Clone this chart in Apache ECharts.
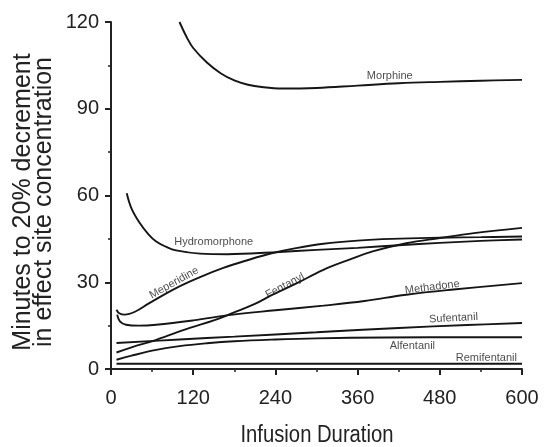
<!DOCTYPE html>
<html>
<head>
<meta charset="utf-8">
<script src="https://cdn.jsdelivr.net/npm/echarts@6/dist/echarts.min.js"></script>
<style>
  html, body { margin: 0; padding: 0; background: #fff; }
  #chart { width: 545px; height: 447px; }
</style>
</head>
<body>
<div id="chart"></div>
<script>
// curve data, [infusion minutes, minutes to 20% decrement]
var morphine = [[100, 120], [110, 115], [120, 111], [140, 106], [160, 102.3], [180, 99.8], [200, 98.3], [220, 97.5], [250, 97], [300, 97.2], [360, 98], [420, 98.8], [480, 99.3], [540, 99.7], [600, 100]]
var hydromorphone = [[23, 60.8], [30, 55.5], [42, 50.5], [55, 46.5], [66, 44.1], [80, 42.3], [95, 41], [130, 39.9], [170, 39.7], [240, 40.4], [300, 41.2], [360, 41.9], [420, 42.8], [480, 43.6], [540, 44.3], [600, 44.8]]
var meperidine = [[8, 20.5], [12, 19.3], [20, 18.8], [35, 19.8], [56, 22.8], [95, 28], [130, 31.8], [163, 34.9], [200, 37.7], [236, 40.1], [270, 41.8], [310, 43.3], [360, 44.4], [410, 45], [480, 45.4], [540, 45.6], [600, 45.8]]
var fentanyl = [[8, 5.7], [30, 7.5], [66, 10.1], [115, 14.2], [150, 16.8], [178, 19.4], [210, 22.5], [236, 25.7], [270, 29.5], [310, 34.3], [350, 38], [382, 40.7], [431, 43.5], [480, 45.3], [530, 47], [600, 48.8]]
var methadone = [[9, 18.8], [13, 16.5], [22, 15.3], [40, 15], [66, 15.3], [120, 16.8], [178, 18.8], [240, 20.3], [310, 21.9], [370, 23.5], [431, 25.7], [500, 27.5], [600, 29.7]]
var sufentanil = [[8, 9], [100, 10.2], [180, 11.2], [300, 12.7], [420, 14.2], [520, 15.2], [600, 15.9]]
var alfentanil = [[8, 3.2], [30, 4.6], [66, 6.6], [100, 7.9], [140, 8.9], [180, 9.6], [240, 10.2], [300, 10.6], [400, 10.9], [600, 11]]
var remifentanil = [[8, 1.8], [600, 1.8]]

var xTicks = [0, 120, 240, 360, 480, 600]
var yTicks = [0, 30, 60, 90, 120]

var xTitle = 'Infusion Duration'
var yTitle = 'Minutes to 20% decrement\nin effect site concentration'

// curve names and where they are written
var labelNames = ['Morphine', 'Hydromorphone', 'Meperidine', 'Fentanyl', 'Methadone', 'Sufentanil', 'Alfentanil', 'Remifentanil']
var labelPos = [[407, 101.2], [150, 43.8], [92, 29.8], [254, 28.8], [469, 28.3], [500, 17.6], [440, 7.8], [548, 3.8]]
var labelRot = [0, 0, 29, 28, 7, 3, 0, 0]

var curves = [morphine, hydromorphone, meperidine, fentanyl, methadone, sufentanil, alfentanil, remifentanil]

var myChart = echarts.init(document.getElementById('chart'))

var font = '"Liberation Sans", Arial, sans-serif'

var series = curves.map(function(d, i) {
  return {
    name: labelNames[i],
    type: 'line',
    data: d,
    smooth: 0.4,
    showSymbol: false,
    silent: true,
    lineStyle: { color: '#151515', width: 1.9 }
  }
})

// text written along the curves
series.push({
  type: 'scatter',
  symbolSize: 0,
  silent: true,
  data: labelNames.map(function(n, i) {
    return {
      value: labelPos[i],
      name: n,
      label: { rotate: labelRot[i] }
    }
  }),
  label: {
    show: true,
    position: 'inside',
    formatter: '{b}',
    color: '#1a1a1a',
    fontSize: 11,
    fontFamily: font
  }
})

var option = {
  animation: false,
  backgroundColor: '#fff',
  grid: { left: 111, right: 23, top: 22, bottom: 78 },
  // axis titles, a bit condensed like the original
  graphic: [
    {
      type: 'text',
      x: 317,
      y: 436,
      scaleX: 0.88,
      style: { text: xTitle, fontSize: 23, fontFamily: font, fill: '#222', align: 'center', verticalAlign: 'middle' }
    },
    {
      type: 'text',
      x: 34,
      y: 202,
      rotation: Math.PI / 2,
      style: { text: yTitle, fontSize: 25, lineHeight: 21, fontFamily: font, fill: '#222', align: 'center', verticalAlign: 'middle' }
    }
  ],
  xAxis: {
    type: 'value',
    min: xTicks[0],
    max: xTicks[xTicks.length - 1],
    interval: 120,
    axisLine: { lineStyle: { color: '#222', width: 2 } },
    axisTick: { length: 6, lineStyle: { color: '#222', width: 2 } },
    minorTick: { show: true, splitNumber: 2, length: 3, lineStyle: { color: '#222', width: 1.5 } },
    splitLine: { show: false },
    axisLabel: { fontSize: 20, color: '#222', margin: 19, fontFamily: font }
  },
  yAxis: {
    type: 'value',
    min: yTicks[0],
    max: yTicks[yTicks.length - 1],
    interval: 30,
    axisLine: { show: true, lineStyle: { color: '#222', width: 2 } },
    axisTick: { show: true, length: 6, lineStyle: { color: '#222', width: 2 } },
    minorTick: { show: true, splitNumber: 2, length: 3, lineStyle: { color: '#222', width: 1.5 } },
    splitLine: { show: false },
    axisLabel: { fontSize: 20, color: '#222', margin: 12, fontFamily: font }
  },
  series: series
}

myChart.setOption(option)
</script>
</body>
</html>
